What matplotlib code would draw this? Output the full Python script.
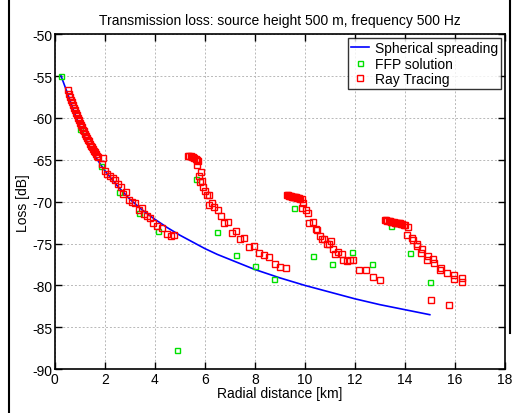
import numpy as np
import matplotlib
matplotlib.use('Agg')
import matplotlib.pyplot as plt
from matplotlib.lines import Line2D

plt.rcParams['font.family'] = ['Liberation Sans', 'DejaVu Sans']
plt.rcParams['axes.unicode_minus'] = False

# spherical spreading curve
sph_r = [0.24, 0.5, 0.75, 1.0, 1.25, 1.5, 1.75, 2.0, 2.5, 3.0, 3.5, 4.0, 4.5, 5.0, 5.5,
         6.0, 6.5, 7.0, 7.5, 8.0, 9.0, 10.0, 11.0, 12.0, 13.0, 14.0, 15.0]
sph_loss = [-54.9, -57.0, -59.1, -61.0, -62.6, -64.0, -65.2, -66.3, -68.1, -69.7, -71.0,
            -72.1, -73.1, -74.0, -74.8, -75.6, -76.3, -76.9, -77.5, -78.1, -79.1, -80.0,
            -80.8, -81.6, -82.3, -82.9, -83.5]

# FFP solution
ffp_r = [0.24, 1.0, 1.85, 2.56, 3.36, 4.13, 4.9, 5.64, 6.47, 7.24, 7.99, 8.77,
         9.56, 10.33, 11.1, 11.9, 12.67, 13.43, 14.21, 15.0]
ffp_loss = [-55.0, -61.3, -65.7, -68.8, -71.4, -73.5, -87.7, -67.3, -73.6, -76.4, -77.7,
            -79.2, -70.7, -76.5, -77.5, -76.0, -77.4, -72.9, -76.1, -79.6]

# ray tracing
ray_r = [0.52, 0.56, 0.60, 0.64, 0.68, 0.72, 0.76, 0.80, 0.84, 0.88, 0.92, 0.96, 1.00,
         1.04, 1.08, 1.12, 1.16, 1.20, 1.24, 1.28, 1.32, 1.36, 1.40, 1.44, 1.48, 1.52,
         1.56, 1.60, 1.64, 1.68, 1.72,
         1.87, 1.93, 2.0, 2.09, 2.2, 2.31, 2.4, 2.53, 2.63, 2.73, 2.84, 2.97, 3.09, 3.2,
         3.36, 3.47, 3.56, 3.67, 3.8, 3.93, 4.09, 4.29, 4.47, 4.63, 4.76,
         5.33, 5.38, 5.43, 5.48, 5.53, 5.58, 5.63, 5.68, 5.73, 5.67,
         5.83, 5.76, 5.89, 5.8, 5.93, 6.0, 6.07, 6.17, 6.15, 6.27, 6.37, 6.51, 6.64,
         6.76, 6.93, 7.07, 7.24, 7.4, 7.57, 7.76, 7.96, 8.15, 8.36, 8.56, 8.79, 9.0, 9.25,
         9.29, 9.33, 9.37, 9.41, 9.45, 9.49, 9.53, 9.57, 9.61, 9.65, 9.69, 9.73, 9.77,
         9.82, 9.87, 9.93, 9.89, 10.03, 10.13, 10.17, 10.31, 10.44, 10.49, 10.6, 10.67,
         10.77, 10.87, 10.97, 11.03, 11.13, 11.2, 11.33, 11.47, 11.53, 11.69, 11.8, 11.93,
         12.17, 12.44, 12.73, 13.02,
         13.2, 13.25, 13.3, 13.35, 13.4, 13.45, 13.5, 13.55, 13.6, 13.65, 13.7, 13.75,
         13.8, 13.85, 13.9, 13.95, 14.0, 14.13, 14.07, 14.27, 14.33, 14.49, 14.47, 14.69,
         14.64, 14.93, 14.88, 15.13, 15.17, 15.4, 15.44, 15.67, 15.97, 15.96, 16.29, 16.27,
         15.03, 15.77]
ray_loss = [-56.7, -57.1, -57.5, -57.8, -58.1, -58.5, -58.8, -59.1, -59.4, -59.7, -60.0,
            -60.3, -60.6, -60.8, -61.1, -61.4, -61.6, -61.9, -62.1, -62.4, -62.6, -62.8,
            -63.1, -63.3, -63.5, -63.7, -63.9, -64.1, -64.3, -64.5, -64.7,
            -65.5, -64.8, -66.3, -66.7, -66.9, -67.2, -67.4, -67.9, -68.3, -69.1, -68.9,
            -69.8, -70.0, -70.2, -71.0, -70.8, -71.5, -71.7, -71.9, -72.6, -72.9, -73.1,
            -73.9, -74.1, -74.0,
            -64.5, -64.55, -64.6, -64.65, -64.7, -64.8, -64.9, -65.0, -65.1, -65.6,
            -66.5, -66.9, -67.5, -67.6, -68.2, -68.7, -69.2, -69.2, -70.4, -70.2, -70.6,
            -71.0, -71.7, -72.5, -72.4, -73.7, -73.5, -74.5, -74.3, -75.4, -75.3, -76.1,
            -76.4, -76.6, -77.4, -77.8, -77.9,
            -69.2, -69.25, -69.3, -69.3, -69.35, -69.4, -69.4, -69.45, -69.5, -69.5,
            -69.55, -69.6, -69.6, -69.65, -69.7, -70.2, -70.7, -71.0, -71.4, -72.5, -72.4,
            -73.3, -73.4, -74.1, -74.5, -74.5, -75.1, -75.0, -74.7, -75.6, -76.3, -76.0,
            -76.3, -77.0, -77.1, -77.0, -77.0, -78.2, -78.2, -79.0, -79.3,
            -72.2, -72.25, -72.3, -72.3, -72.35, -72.4, -72.4, -72.45, -72.5, -72.5,
            -72.55, -72.6, -72.6, -72.65, -72.7, -72.75, -72.8, -73.0, -74.0, -74.3, -74.6,
            -75.0, -75.3, -75.7, -76.1, -76.5, -77.0, -76.8, -77.3, -78.2, -77.9, -78.5,
            -78.8, -79.2, -79.1, -79.6,
            -81.8, -82.4]

fig = plt.figure(figsize=(5.12, 4.14), dpi=100)
ax = fig.add_axes([0.107, 0.106, 0.879, 0.809])

ax.plot(sph_r, sph_loss, color='#0000ff', lw=1.2, label='Spherical spreading', zorder=3)
ax.plot(ffp_r, ffp_loss, ls='none', marker='s', ms=3.6, mfc='none', mec='#00e000',
        mew=1.0, label='FFP solution', zorder=4)
ax.plot(ray_r, ray_loss, ls='none', marker='s', ms=4.0, mfc='none', mec='#ff0000',
        mew=1.0, label='Ray Tracing', zorder=5)

ax.set_xlim(0, 18)
ax.set_ylim(-90, -50)
ax.set_xticks(np.arange(0, 19, 2))
ax.set_yticks(np.arange(-90, -49, 5))
ax.grid(True, color='#b8b8b8', ls=(0, (2, 2)), lw=0.7)
ax.set_axisbelow(True)
ax.tick_params(direction='in', top=True, right=True, length=5, width=1,
               labelsize=10, pad=2)
for s in ax.spines.values():
    s.set_linewidth(1.2)

ax.set_xlabel('Radial distance [km]', fontsize=10, labelpad=0)
ax.set_ylabel('Loss [dB]', fontsize=10, labelpad=1)
ax.set_title('Transmission loss: source height 500 m, frequency 500 Hz', fontsize=10, pad=7)

leg = ax.legend(loc='upper right', fontsize=10, frameon=True, fancybox=False,
                borderaxespad=0.3, handlelength=1.3, handletextpad=0.4,
                borderpad=0.2, labelspacing=0.1)
leg.get_frame().set_edgecolor('black')
leg.get_frame().set_linewidth(1.0)

# window border remnants
fig.add_artist(Line2D([9 / 512, 9 / 512], [0, 1], color='black', lw=1.5))
fig.add_artist(Line2D([510 / 512, 510 / 512], [80 / 414, 1], color='black', lw=1.5))

fig.savefig('out.png', dpi=100)
